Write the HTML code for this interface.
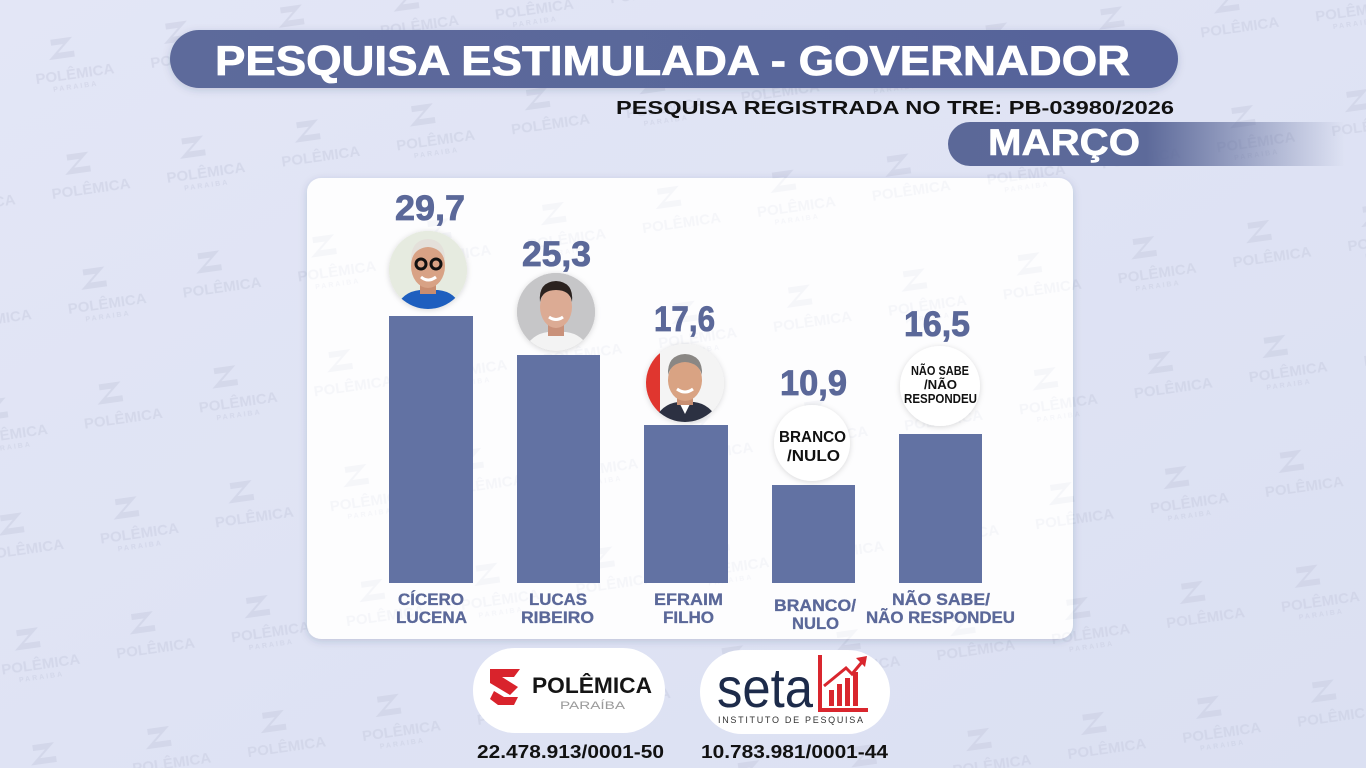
<!DOCTYPE html>
<html><head><meta charset="utf-8">
<style>
html,body{margin:0;padding:0;background:#dfe3f3;}
svg{display:block;}
text{font-family:"Liberation Sans",sans-serif;font-weight:bold;}
</style></head>
<body>
<svg width="1366" height="768" viewBox="0 0 1366 768" xmlns="http://www.w3.org/2000/svg">
<defs>
  <linearGradient id="bg" x1="0" y1="0" x2="1" y2="1">
    <stop offset="0" stop-color="#e3e6f6"/>
    <stop offset="1" stop-color="#dbe0f2"/>
  </linearGradient>
  <pattern id="wm" width="232" height="232" patternUnits="userSpaceOnUse" patternTransform="translate(20,40) rotate(-8)">
    <g fill="#c7cce0" opacity="0.5">
      <g>
        <path d="M30 4 h22 l-16 14 h16 v6 h-26 l16 -14 h-12 z"/>
        <text x="10" y="46" font-size="15">POLÊMICA</text>
        <text x="26" y="56" font-size="7" font-weight="normal" letter-spacing="2">PARAIBA</text>
      </g>
      <g transform="translate(116,116)">
        <path d="M30 4 h22 l-16 14 h16 v6 h-26 l16 -14 h-12 z"/>
        <text x="10" y="46" font-size="15">POLÊMICA</text>
        <text x="26" y="56" font-size="7" font-weight="normal" letter-spacing="2">PARAIBA</text>
      </g>
      <g transform="translate(116,0)">
        <path d="M30 4 h22 l-16 14 h16 v6 h-26 l16 -14 h-12 z"/>
        <text x="10" y="46" font-size="15">POLÊMICA</text>
      </g>
      <g transform="translate(0,116)">
        <path d="M30 4 h22 l-16 14 h16 v6 h-26 l16 -14 h-12 z"/>
        <text x="10" y="46" font-size="15">POLÊMICA</text>
      </g>
    </g>
  </pattern>
  <linearGradient id="mg" x1="948" y1="0" x2="1345" y2="0" gradientUnits="userSpaceOnUse">
    <stop offset="0" stop-color="#5b6898"/>
    <stop offset="0.5" stop-color="#5d6a9a"/>
    <stop offset="1" stop-color="#5b6898" stop-opacity="0"/>
  </linearGradient>
  <linearGradient id="tg" x1="0" y1="0" x2="1" y2="0">
    <stop offset="0" stop-color="#5d6a9b"/>
    <stop offset="1" stop-color="#56639a"/>
  </linearGradient>
  <filter id="sh" x="-10%" y="-10%" width="120%" height="130%">
    <feDropShadow dx="0" dy="2" stdDeviation="4" flood-color="#2a3560" flood-opacity="0.18"/>
  </filter>
  <filter id="csh" x="-30%" y="-30%" width="160%" height="160%">
    <feDropShadow dx="0" dy="1" stdDeviation="3" flood-color="#000" flood-opacity="0.15"/>
  </filter>
  <clipPath id="c1"><circle cx="428" cy="270" r="39"/></clipPath>
  <clipPath id="c2"><circle cx="556" cy="312" r="39"/></clipPath>
  <clipPath id="c3"><circle cx="685" cy="383" r="39"/></clipPath>
</defs>

<!-- background -->
<rect width="1366" height="768" fill="url(#bg)"/>
<rect width="1366" height="768" fill="url(#wm)"/>

<!-- title -->
<rect x="170" y="30" width="1008" height="58" rx="29" fill="url(#tg)" filter="url(#sh)"/>
<text x="215" y="75" font-size="42" fill="#ffffff" stroke="#ffffff" stroke-width="0.8" textLength="915" lengthAdjust="spacingAndGlyphs">PESQUISA ESTIMULADA - GOVERNADOR</text>

<text x="616" y="114" font-size="18" fill="#111111" textLength="558" lengthAdjust="spacingAndGlyphs">PESQUISA REGISTRADA NO TRE: PB-03980/2026</text>

<path d="M970 122 H1345 V166 H970 A22 22 0 0 1 970 122 Z" fill="url(#mg)"/>
<text x="988" y="155" font-size="37" fill="#ffffff" stroke="#ffffff" stroke-width="0.6" textLength="152" lengthAdjust="spacingAndGlyphs">MARÇO</text>

<!-- panel -->
<rect x="307" y="178" width="766" height="461" rx="14" fill="#fdfdfe" filter="url(#sh)"/>
<rect x="307" y="178" width="766" height="461" rx="14" fill="url(#wm)" opacity="0.3"/>

<!-- bars -->
<g fill="#6272a3">
  <rect x="389" y="316" width="84" height="267"/>
  <rect x="517" y="355" width="83" height="228"/>
  <rect x="644" y="425" width="84" height="158"/>
  <rect x="772" y="485" width="83" height="98"/>
  <rect x="899" y="434" width="83" height="149"/>
</g>

<!-- values -->
<g fill="#5b6899" stroke="#5b6899" stroke-width="0.8" font-size="35">
  <text x="395" y="220" textLength="70" lengthAdjust="spacingAndGlyphs">29,7</text>
  <text x="522" y="266" textLength="69" lengthAdjust="spacingAndGlyphs">25,3</text>
  <text x="654" y="331" textLength="61" lengthAdjust="spacingAndGlyphs">17,6</text>
  <text x="780" y="395" textLength="67" lengthAdjust="spacingAndGlyphs">10,9</text>
  <text x="904" y="336" textLength="66" lengthAdjust="spacingAndGlyphs">16,5</text>
</g>

<!-- photo 1 -->
<g filter="url(#csh)"><circle cx="428" cy="270" r="39" fill="#e9ede2"/></g>
<g clip-path="url(#c1)">
  <rect x="389" y="231" width="78" height="78" fill="#e6ebe0"/>
  <path d="M395 312 Q400 292 420 290 L438 290 Q458 292 462 312 Z" fill="#1e5fbf"/>
  <path d="M420 284 h16 v10 h-16 z" fill="#c98d70"/>
  <ellipse cx="428" cy="266" rx="17" ry="22" fill="#d8a285"/>
  <path d="M411 262 Q410 240 428 239 Q446 240 445 262 Q442 248 428 247 Q414 248 411 262 Z" fill="#e4e0da"/>
  <circle cx="421" cy="264" r="5" fill="none" stroke="#111" stroke-width="3"/>
  <circle cx="436" cy="264" r="5" fill="none" stroke="#111" stroke-width="3"/>
  <path d="M421 277 Q428 283 436 277" stroke="#fff" stroke-width="3" fill="none"/>
</g>

<!-- photo 2 -->
<g filter="url(#csh)"><circle cx="556" cy="312" r="39" fill="#c9c9cb"/></g>
<g clip-path="url(#c2)">
  <rect x="517" y="273" width="78" height="78" fill="#c6c6c8"/>
  <path d="M522 354 Q530 334 548 332 L566 332 Q584 334 592 354 Z" fill="#f3f3f3"/>
  <path d="M548 322 h16 v14 h-16 z" fill="#c9917a"/>
  <ellipse cx="556" cy="307" rx="16" ry="21" fill="#dcab94"/>
  <path d="M540 302 Q538 282 556 281 Q574 282 572 302 Q570 290 556 290 Q542 290 540 302 Z" fill="#2b221f"/>
  <path d="M549 317 Q556 322 563 317" stroke="#fff" stroke-width="3" fill="none"/>
</g>

<!-- photo 3 -->
<g filter="url(#csh)"><circle cx="685" cy="383" r="39" fill="#f2f2f2"/></g>
<g clip-path="url(#c3)">
  <rect x="646" y="344" width="78" height="78" fill="#f4f4f4"/>
  <rect x="646" y="344" width="14" height="78" fill="#e0362f"/>
  <path d="M652 425 Q660 404 678 402 L694 402 Q712 404 720 425 Z" fill="#2c3142"/>
  <path d="M679 402 l6 12 l6 -12 z" fill="#ffffff"/>
  <path d="M677 393 h16 v12 h-16 z" fill="#c88f72"/>
  <ellipse cx="685" cy="380" rx="17" ry="21" fill="#d9a383"/>
  <path d="M668 375 Q667 355 685 354 Q703 355 702 375 Q699 363 685 362 Q671 363 668 375 Z" fill="#8a8784"/>
  <path d="M677 389 Q685 395 693 389" stroke="#fff" stroke-width="3" fill="none"/>
</g>

<!-- circle 4 -->
<g filter="url(#csh)"><circle cx="812" cy="443" r="38" fill="#ffffff"/></g>
<g fill="#111111" font-size="16">
  <text x="779" y="442" textLength="67" lengthAdjust="spacingAndGlyphs">BRANCO</text>
  <text x="787" y="461" textLength="53" lengthAdjust="spacingAndGlyphs">/NULO</text>
</g>

<!-- circle 5 -->
<g filter="url(#csh)"><circle cx="940" cy="386" r="40" fill="#ffffff"/></g>
<g fill="#111111" font-size="13">
  <text x="911" y="375" textLength="58" lengthAdjust="spacingAndGlyphs">NÃO SABE</text>
  <text x="924" y="389" textLength="33" lengthAdjust="spacingAndGlyphs">/NÃO</text>
  <text x="904" y="403" textLength="73" lengthAdjust="spacingAndGlyphs">RESPONDEU</text>
</g>

<!-- category labels -->
<g fill="#5b6899" stroke="#5b6899" stroke-width="0.3" font-size="16.5">
  <text x="398" y="605" textLength="66" lengthAdjust="spacingAndGlyphs">CÍCERO</text>
  <text x="396" y="623" textLength="71" lengthAdjust="spacingAndGlyphs">LUCENA</text>
  <text x="529" y="605" textLength="58" lengthAdjust="spacingAndGlyphs">LUCAS</text>
  <text x="521" y="623" textLength="73" lengthAdjust="spacingAndGlyphs">RIBEIRO</text>
  <text x="654" y="605" textLength="69" lengthAdjust="spacingAndGlyphs">EFRAIM</text>
  <text x="663" y="623" textLength="51" lengthAdjust="spacingAndGlyphs">FILHO</text>
  <text x="774" y="611" textLength="82" lengthAdjust="spacingAndGlyphs">BRANCO/</text>
  <text x="792" y="629" textLength="47" lengthAdjust="spacingAndGlyphs">NULO</text>
  <text x="892" y="605" textLength="98" lengthAdjust="spacingAndGlyphs">NÃO SABE/</text>
  <text x="866" y="623" textLength="149" lengthAdjust="spacingAndGlyphs">NÃO RESPONDEU</text>
</g>

<!-- bottom logos -->
<rect x="473" y="648" width="192" height="85" rx="42" fill="#ffffff"/>
<g fill="#d9232c">
  <path d="M490 669 h30 l-6 8 h-12 l16 10 l-8 8 l-20 -12 z"/>
  <path d="M494 691 l10 6 h14 l-4 8 h-16 l-8 -6 z"/>
</g>
<text x="532" y="693" font-size="22" fill="#151515" textLength="120" lengthAdjust="spacingAndGlyphs">POLÊMICA</text>
<text x="560" y="709" font-size="11" fill="#9a9a9a" textLength="65" lengthAdjust="spacingAndGlyphs" style="font-weight:normal">PARAÍBA</text>

<rect x="700" y="650" width="190" height="84" rx="42" fill="#ffffff"/>
<text x="717" y="707" font-size="56" fill="#1d2b4a" textLength="96" lengthAdjust="spacingAndGlyphs" style="font-weight:normal">seta</text>
<g fill="#d9262e">
  <rect x="818" y="655" width="4" height="57"/>
  <rect x="818" y="708" width="50" height="4"/>
  <rect x="829" y="690" width="5" height="16"/>
  <rect x="837" y="684" width="5" height="22"/>
  <rect x="845" y="678" width="5" height="28"/>
  <rect x="853" y="672" width="5" height="34"/>
  <path d="M824 686 L846 668 L852 674 L862 662" stroke="#d9262e" stroke-width="3" fill="none"/>
  <path d="M856 658 L867 656 L865 667 Z"/>
</g>
<text x="718" y="723" font-size="9" fill="#333" textLength="145" lengthAdjust="spacing" style="font-weight:normal">INSTITUTO DE PESQUISA</text>

<g fill="#111111" font-size="18">
  <text x="477" y="758" textLength="187" lengthAdjust="spacingAndGlyphs">22.478.913/0001-50</text>
  <text x="701" y="758" textLength="187" lengthAdjust="spacingAndGlyphs">10.783.981/0001-44</text>
</g>
</svg>
</body></html>
